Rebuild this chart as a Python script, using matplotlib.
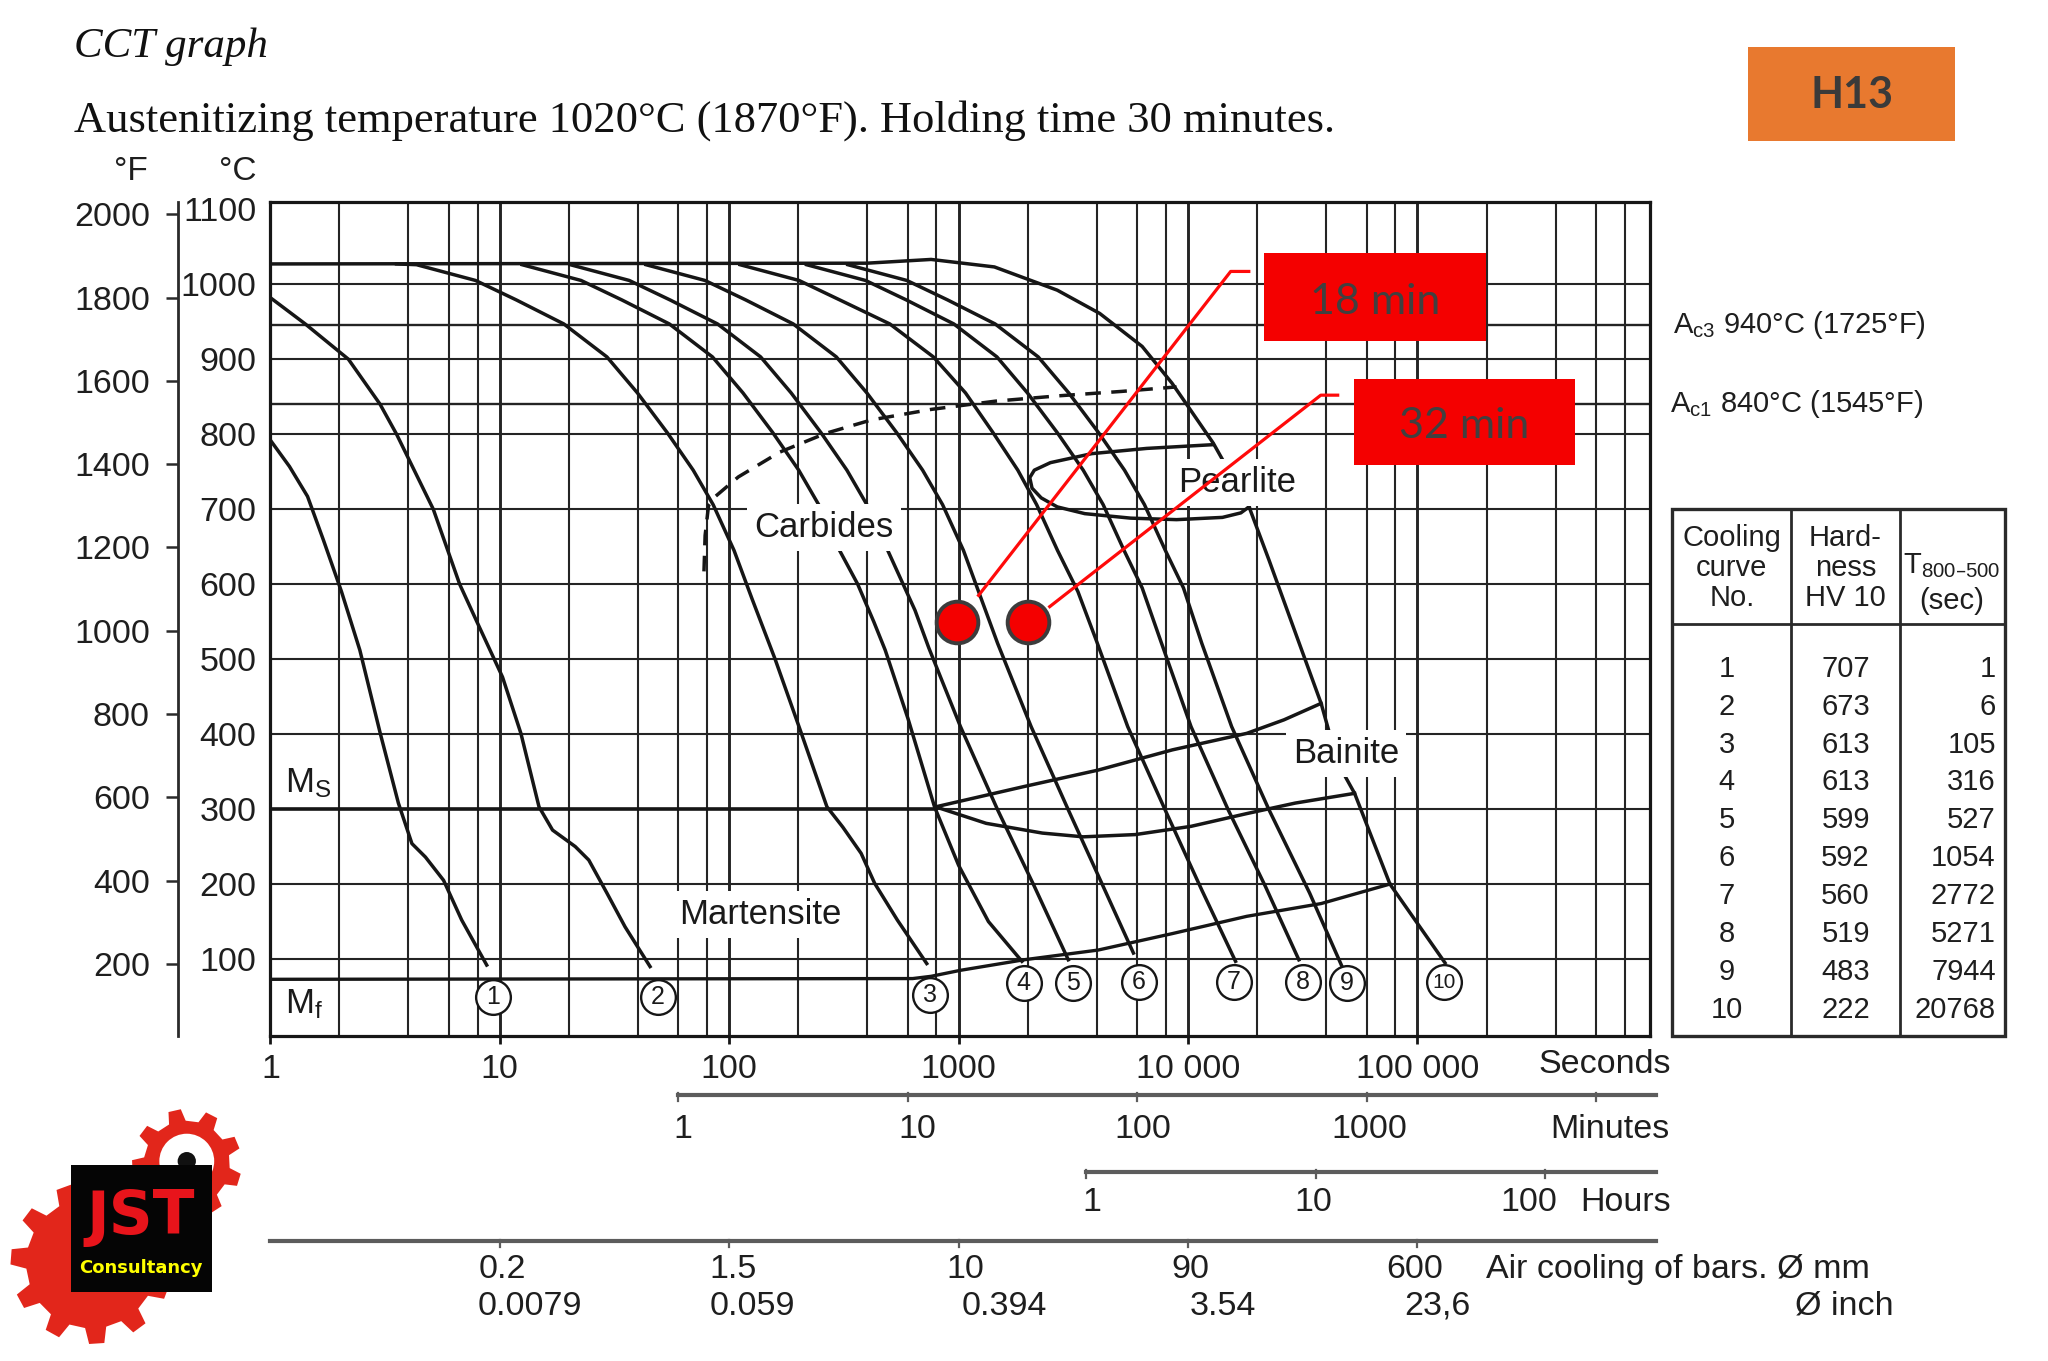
import numpy as np
import matplotlib
matplotlib.use("Agg")
import matplotlib.pyplot as plt
import matplotlib.transforms as mtrans
from matplotlib.lines import Line2D
from matplotlib.patches import Rectangle, Polygon, Circle
from matplotlib.ticker import FixedLocator, FixedFormatter, LogLocator, NullFormatter

plt.rcParams['font.family'] = ['Liberation Sans', 'DejaVu Sans']
plt.rcParams['mathtext.default'] = 'regular'

# ------------------------------------------------------------------
# DATA: time as log10(seconds), temperature °C
# ------------------------------------------------------------------
c1_log10s = [0.0, 0.083, 0.162, 0.231, 0.31, 0.39, 0.479, 0.558, 0.617, 0.676, 0.755, 0.834, 0.943]
c1_temp = [792, 757, 717, 659, 590, 512, 401, 308, 254, 236, 205, 152, 92]

c2_log10s = [0.0, 0.152, 0.34, 0.478, 0.55, 0.71, 0.825, 0.90, 1.012, 1.092, 1.171, 1.23, 1.329, 1.388, 1.467, 1.546, 1.655]
c2_temp = [982, 947, 900, 840, 800, 700, 600, 550, 476, 401, 303, 272, 250, 232, 188, 143, 90]

c3_log10s = [0.55, 0.637, 0.894, 1.072, 1.279, 1.467, 1.60, 1.73, 1.843, 1.93, 2.021, 2.10, 2.20, 2.31, 2.426, 2.495, 2.575, 2.634, 2.733, 2.861]
c3_temp = [1027, 1026, 1005, 979, 947, 903, 855, 802, 752, 706, 645, 580, 500, 405, 303, 276, 241, 201, 152, 94]

c4_log10s = [1.097, 1.354, 1.532, 1.739, 1.927, 2.06, 2.19, 2.303, 2.39, 2.481, 2.56, 2.63, 2.68, 2.78, 2.895, 3.0, 3.13, 3.276]
c4_temp = [1026, 1005, 979, 947, 903, 855, 802, 752, 706, 645, 600, 550, 512, 420, 303, 225, 150, 97]

c5_log10s = [1.307, 1.564, 1.742, 1.949, 2.137, 2.27, 2.40, 2.513, 2.60, 2.691, 2.81, 2.87, 3.008, 3.17, 3.33, 3.478]
c5_temp = [1026, 1005, 979, 947, 903, 855, 802, 752, 706, 645, 565, 515, 410, 299, 197, 99]

c6_log10s = [1.637, 1.894, 2.072, 2.279, 2.467, 2.60, 2.73, 2.843, 2.93, 3.021, 3.17, 3.316, 3.478, 3.624, 3.762]
c6_temp = [1026, 1005, 979, 947, 903, 855, 802, 752, 706, 645, 521, 410, 299, 201, 108]

c7_log10s = [2.047, 2.304, 2.482, 2.70, 2.89, 3.03, 3.15, 3.258, 3.34, 3.431, 3.52, 3.60, 3.737, 3.90, 4.06, 4.207]
c7_temp = [1026, 1005, 979, 947, 903, 855, 802, 752, 706, 645, 590, 525, 410, 299, 192, 97]

c8_log10s = [2.337, 2.594, 2.772, 2.979, 3.167, 3.30, 3.43, 3.543, 3.63, 3.721, 3.80, 3.88, 4.013, 4.175, 4.337, 4.483]
c8_temp = [1026, 1005, 979, 947, 903, 855, 802, 752, 706, 645, 595, 525, 410, 299, 197, 99]

c9_log10s = [2.517, 2.774, 2.952, 3.159, 3.347, 3.48, 3.61, 3.723, 3.81, 3.901, 3.98, 4.06, 4.19, 4.353, 4.53, 4.677]
c9_temp = [1026, 1005, 979, 947, 903, 855, 802, 752, 706, 645, 595, 521, 410, 299, 188, 86]

c10_log10s = [0.0, 2.60, 2.88, 3.156, 3.43, 3.615, 3.80, 3.93, 4.0, 4.11, 4.266, 4.353, 4.48, 4.58, 4.613, 4.686, 4.726, 4.88, 5.12]
c10_temp = [1027, 1028, 1033, 1023, 992, 961, 917, 868, 837, 788, 703, 632, 525, 441, 405, 343, 321, 200, 95]

carb_log10s = [1.89, 1.895, 1.91, 1.94, 2.04, 2.22, 2.42, 2.62, 2.88, 3.16, 3.43, 3.71, 3.95]
carb_temp = [617, 665, 705, 717, 743, 776, 801, 819, 833, 844, 851, 857, 863]

pearl_log10s = [4.11, 3.82, 3.58, 3.40, 3.33, 3.31, 3.32, 3.36, 3.43, 3.55, 3.75, 3.95, 4.15, 4.23, 4.266]
pearl_temp = [786, 781, 774, 762, 752, 742, 728, 715, 703, 694, 688, 686, 689, 695, 703]

bs_log10s = [2.90, 3.284, 3.608, 3.932, 4.256, 4.418, 4.58]
bs_temp = [303, 330, 352, 379, 401, 419, 441]

bmid_log10s = [2.90, 3.12, 3.365, 3.543, 3.77, 4.013, 4.256, 4.467, 4.726]
bmid_temp = [303, 281, 268, 263, 266, 277, 294, 308, 321]

mfbf_log10s = [0.0, 2.80, 2.88, 3.008, 3.284, 3.608, 3.932, 4.256, 4.58, 4.88]
mfbf_temp = [73, 74, 77, 85, 99, 112, 134, 157, 174, 200]

ms_log10s = [0.0, 2.90]
ms_temp = [300, 300]

ac3_temp = 945
ac1_temp = 840
ac_labels = ['$\\mathregular{A_{c3}}$ 940°C (1725°F)', '$\\mathregular{A_{c1}}$ 840°C (1545°F)']

region_names = ['Carbides', 'Pearlite', 'Bainite', 'Martensite']
region_log10s = [2.413, 4.212, 4.689, 2.134]
region_temp = [676, 735, 374, 159]

circ_names = ['1', '2', '3', '4', '5', '6', '7', '8', '9', '10']
circ_log10s = [0.969, 1.69, 2.875, 3.284, 3.50, 3.786, 4.20, 4.50, 4.694, 5.115]
circ_temp = [50, 50, 52, 68, 68, 69, 69, 69, 68, 69]

dots_s = [985, 2000]
dots_temp = [550, 550]
leader1_s = [1222, 15340, 18400]
leader1_temp = [585, 1017, 1017]
leader2_s = [2495, 37900, 44900]
leader2_temp = [570, 852, 852]
note_texts = ['18 min', '32 min']

degc_ticks = [100, 200, 300, 400, 500, 600, 700, 800, 900, 1000, 1100]
degf_ticks = [200, 400, 600, 800, 1000, 1200, 1400, 1600, 1800, 2000]

sec_ticks = [1, 10, 100, 1000, 10000, 100000]
sec_labels = ['1', '10', '100', '1000', '10 000', '100 000']
min_ticks = [1, 10, 100, 1000, 10000]
min_labels = ['1', '10', '100', '1000', '']
hour_ticks = [1, 10, 100]
hour_labels = ['1', '10', '100']
bar_ticks_s = [10, 100, 1000, 10000, 100000]
bar_mm = ['0.2', '1.5', '10', '90', '600']
bar_inch = ['0.0079', '0.059', '0.394', '3.54', '23,6']

table_no = ['1', '2', '3', '4', '5', '6', '7', '8', '9', '10']
table_hv = ['707', '673', '613', '613', '599', '592', '560', '519', '483', '222']
table_t85 = ['1', '6', '105', '316', '527', '1054', '2772', '5271', '7944', '20768']

# ------------------------------------------------------------------
INK = '#161616'
GRID = '#242424'
RED = '#f40000'
W, H = 1568.0, 1042.0


def fx(x):
    return x / W


def fy(y):
    return 1.0 - y / H


def secs(v):
    return 10 ** np.asarray(v, dtype=float)


fig = plt.figure(figsize=(20.48, 13.61), dpi=100)
fig.patch.set_facecolor('white')

ax = fig.add_axes([fx(207), fy(793), fx(1263) - fx(207), fy(155) - fy(793)])
ax.set_xscale('log')
ax.set_xlim(1, 10 ** 6.012)
ax.set_ylim(-2.3, 1109)
ax.set_axisbelow(True)

ax.xaxis.set_major_locator(FixedLocator(sec_ticks))
ax.xaxis.set_major_formatter(FixedFormatter(sec_labels))
ax.xaxis.set_minor_locator(LogLocator(base=10, subs=(2, 4, 6, 8), numticks=40))
ax.xaxis.set_minor_formatter(NullFormatter())
ax.grid(True, which='major', axis='x', color=GRID, lw=2.1)
ax.grid(True, which='minor', axis='x', color=GRID, lw=1.5)
ax.tick_params(axis='x', which='major', direction='out', length=6, width=2.0,
               pad=7, labelsize=24.5, labelcolor='#1e1e1e', color=INK)
ax.tick_params(axis='x', which='minor', length=0)
ax.set_yticks(degc_ticks)
ax.set_yticklabels([str(v) for v in degc_ticks])
ax.tick_params(axis='y', length=0, pad=10, labelsize=24.5, labelcolor='#1e1e1e')
for s in ax.spines.values():
    s.set_linewidth(2.3)
    s.set_color(INK)

for t in range(100, 1001, 100):
    ax.axhline(t, color=GRID, lw=1.5, zorder=1)
ax.axhline(ac3_temp, color=GRID, lw=1.7, zorder=1)
ax.axhline(ac1_temp, color=GRID, lw=1.7, zorder=1)

curves = [(c1_log10s, c1_temp), (c2_log10s, c2_temp), (c3_log10s, c3_temp),
          (c4_log10s, c4_temp), (c5_log10s, c5_temp), (c6_log10s, c6_temp),
          (c7_log10s, c7_temp), (c8_log10s, c8_temp), (c9_log10s, c9_temp),
          (c10_log10s, c10_temp)]
for lx, ty in curves:
    ax.plot(secs(lx), ty, color=INK, lw=2.5, zorder=3, solid_joinstyle='round')

ax.plot(secs(carb_log10s), carb_temp, color=INK, lw=2.5, ls=(0, (4.5, 3)), zorder=3)
ax.plot(secs(pearl_log10s), pearl_temp, color=INK, lw=2.5, zorder=3)
ax.plot(secs(bs_log10s), bs_temp, color=INK, lw=2.5, zorder=3)
ax.plot(secs(bmid_log10s), bmid_temp, color=INK, lw=2.5, zorder=3)
ax.plot(secs(mfbf_log10s), mfbf_temp, color=INK, lw=2.4, zorder=3)
ax.plot(secs(ms_log10s), ms_temp, color=INK, lw=2.6, zorder=3)

for name, lx, ty in zip(region_names, region_log10s, region_temp):
    ax.text(10 ** lx, ty, name, ha='center', va='center', fontsize=25, color='#1a1a1a',
            zorder=5, bbox=dict(fc='white', ec='none', pad=5))

ax.text(10 ** 0.065, 334, '$\\mathregular{M_S}$', ha='left', va='center', fontsize=25,
        color='#1a1a1a', zorder=5)
ax.text(10 ** 0.065, 40, '$\\mathregular{M_f}$', ha='left', va='center', fontsize=25,
        color='#1a1a1a', zorder=5)

ax.scatter(secs(circ_log10s), circ_temp, s=25 ** 2, facecolor='white', edgecolor=INK,
           linewidth=1.7, zorder=6)
for name, lx, ty in zip(circ_names, circ_log10s, circ_temp):
    ax.text(10 ** lx, ty, name, ha='center', va='center', fontsize=18 if len(name) == 1 else 15,
            color='#1a1a1a', zorder=7)

# red annotations
ax.plot(leader1_s, leader1_temp, color='#ff0a0a', lw=2.3, zorder=7, clip_on=False)
ax.plot(leader2_s, leader2_temp, color='#ff0a0a', lw=2.3, zorder=7, clip_on=False)
ax.plot(dots_s, dots_temp, ls='none', marker='o', ms=30, mfc=RED, mec='#3c3c3c', mew=2.8,
        zorder=8)

# Ac labels at right of plot
btr = mtrans.blended_transform_factory(ax.transAxes, ax.transData)
ax.text(1.017, ac3_temp, ac_labels[0], transform=btr, ha='left', va='center', fontsize=21,
        color='#1e1e1e', clip_on=False)
ax.text(1.015, ac1_temp, ac_labels[1], transform=btr, ha='left', va='center', fontsize=21,
        color='#1e1e1e', clip_on=False)

# Fahrenheit axis
axf = fig.add_axes([fx(136), fy(793), 0.001, fy(155) - fy(793)])
axf.set_ylim(-2.3 * 9 / 5 + 32, 1109 * 9 / 5 + 32)
axf.set_yticks(degf_ticks)
axf.set_yticklabels([str(v) for v in degf_ticks])
axf.set_xticks([])
for k in ['top', 'right', 'bottom']:
    axf.spines[k].set_visible(False)
axf.spines['left'].set_linewidth(2.0)
axf.spines['left'].set_color('#2a2a2a')
axf.tick_params(axis='y', direction='out', length=9, width=1.8, pad=11, labelsize=24.5,
                labelcolor='#1e1e1e', color='#2a2a2a')
axf.patch.set_alpha(0)

# titles
fig.text(fx(57), fy(36), 'CCT graph', family=['Liberation Serif', 'DejaVu Serif'], style='italic',
         fontsize=31, ha='left', va='center', color='#111111')
fig.text(fx(57), fy(92), 'Austenitizing temperature 1020°C (1870°F). Holding time 30 minutes.',
         family=['Liberation Serif', 'DejaVu Serif'], fontsize=32, ha='left', va='center',
         color='#111111')
fig.text(fx(100), fy(131), '°F', fontsize=24, ha='center', va='center', color='#1e1e1e')
fig.text(fx(182), fy(131), '°C', fontsize=24, ha='center', va='center', color='#1e1e1e')

# H13 badge
fig.add_artist(Rectangle((fx(1338), fy(108)), fx(1497) - fx(1338), fy(36) - fy(108),
                         transform=fig.transFigure, fc='#e8792f', ec='none', zorder=9))
fig.text(fx(1418), fy(73), 'H13', family=['Lato', 'Open Sans', 'DejaVu Sans'], fontweight='bold',
         fontsize=31, ha='center', va='center', color='#3a3a3a', zorder=10)

# red note boxes
for (x0, x1, y0, y1, xc, yc), txt in zip([(968, 1138, 194, 261, 1053, 231),
                                          (1037, 1206, 290, 356, 1121, 326)], note_texts):
    fig.add_artist(Rectangle((fx(x0), fy(y1)), fx(x1) - fx(x0), fy(y0) - fy(y1),
                             transform=fig.transFigure, fc=RED, ec='none', zorder=9))
    fig.text(fx(xc), fy(yc), txt, family=['Lato', 'Open Sans', 'DejaVu Sans'], fontsize=31,
             ha='center', va='center', color='#404040', zorder=10)

# secondary time scales under the chart
bt = mtrans.blended_transform_factory(ax.transData, fig.transFigure)
LGRAY = '#5c5c5c'
x_end = 10 ** 6.04


def scale_line(x_start, y, ticks):
    fig.add_artist(Line2D([x_start, x_end], [fy(y), fy(y)], transform=bt, color=LGRAY, lw=3.0))
    for t in ticks:
        fig.add_artist(Line2D([t, t], [fy(y - 1), fy(y + 5)], transform=bt, color=LGRAY, lw=1.6))


fig.text(fx(1178), fy(815), 'Seconds', fontsize=24.5, ha='left', va='center', color='#1e1e1e')

min_s = [m * 60 for m in min_ticks]
scale_line(min_s[0], 838, min_s)
for t, lab, dx in zip(min_s, min_labels, [3, 7, 4, 2, 0]):
    ax.annotate(lab, xy=(t, fy(865)), xycoords=bt, xytext=(dx, 0), textcoords='offset points',
                ha='center', va='center', fontsize=24.5, color='#1e1e1e', annotation_clip=False)
fig.text(fx(1187), fy(865), 'Minutes', fontsize=24.5, ha='left', va='center', color='#1e1e1e')

hour_s = [h * 3600 for h in hour_ticks]
scale_line(hour_s[0], 897, hour_s)
for t, lab, dx in zip(hour_s, hour_labels, [4, -2, -12]):
    ax.annotate(lab, xy=(t, fy(921)), xycoords=bt, xytext=(dx, 0), textcoords='offset points',
                ha='center', va='center', fontsize=24.5, color='#1e1e1e', annotation_clip=False)
fig.text(fx(1210), fy(921), 'Hours', fontsize=24.5, ha='left', va='center', color='#1e1e1e')

scale_line(1, 950, bar_ticks_s)
for t, lab, dx in zip(bar_ticks_s, bar_mm, [2, 3, 5, 2, -2]):
    ax.annotate(lab, xy=(t, fy(972)), xycoords=bt, xytext=(dx, 0), textcoords='offset points',
                ha='center', va='center', fontsize=24.5, color='#1e1e1e', annotation_clip=False)
for t, lab, dx in zip(bar_ticks_s, bar_inch, [22, 17, 33, 25, 14]):
    ax.annotate(lab, xy=(t, fy(1000)), xycoords=bt, xytext=(dx, 0), textcoords='offset points',
                ha='center', va='center', fontsize=24.5, color='#1e1e1e', annotation_clip=False)
fig.text(fx(1138), fy(972), 'Air cooling of bars. Ø mm', fontsize=24.5, ha='left', va='center',
         color='#1e1e1e')
fig.text(fx(1450), fy(1000), 'Ø inch', fontsize=24.5, ha='right', va='center', color='#1e1e1e')

# hardness table
TL, TR, TT, TB = 1280, 1535, 390, 793
fig.add_artist(Rectangle((fx(TL), fy(TB)), fx(TR) - fx(TL), fy(TT) - fy(TB),
                         transform=fig.transFigure, fc='none', ec='#2a2a2a', lw=2.4))
for xc in [1371, 1455]:
    fig.add_artist(Line2D([fx(xc), fx(xc)], [fy(TB), fy(TT)], transform=fig.transFigure,
                          color='#2a2a2a', lw=2.0))
fig.add_artist(Line2D([fx(TL), fx(TR)], [fy(478), fy(478)], transform=fig.transFigure,
                      color='#2a2a2a', lw=2.0))
fig.text(fx(1326), fy(435), 'Cooling\ncurve\nNo.', fontsize=21, ha='center', va='center',
         linespacing=1.08, color='#1e1e1e')
fig.text(fx(1413), fy(435), 'Hard-\nness\nHV 10', fontsize=21, ha='center', va='center',
         linespacing=1.08, color='#1e1e1e')
fig.text(fx(1494), fy(433), '$\\mathregular{T_{800\u2013500}}$', fontsize=21, ha='center',
         va='center', color='#1e1e1e')
fig.text(fx(1494), fy(460), '(sec)', fontsize=21, ha='center', va='center', color='#1e1e1e')
for i, (a, b, c) in enumerate(zip(table_no, table_hv, table_t85)):
    yy = fy(512 + 29 * i)
    fig.text(fx(1322), yy, a, fontsize=21, ha='center', va='center', color='#1e1e1e')
    fig.text(fx(1413), yy, b, fontsize=21, ha='center', va='center', color='#1e1e1e')
    fig.text(fx(1528), yy, c, fontsize=21, ha='right', va='center', color='#1e1e1e')

# logo (JST Consultancy)
lax = fig.add_axes([0, fy(1035), fx(195), fy(845) - fy(1035)])
lax.set_xlim(0, 195)
lax.set_ylim(1035, 845)
lax.axis('off')


def gear(cx, cy, r_out, r_root, n, phase=0.0):
    pts = []
    da = 2 * np.pi / n
    for k in range(n):
        a0 = phase + k * da
        for frac, r in [(0.0, r_root), (0.12, r_out), (0.45, r_out), (0.57, r_root)]:
            a = a0 + frac * da
            pts.append((cx + r * np.cos(a), cy + r * np.sin(a)))
    return pts


GEAR = '#e2261b'
lax.add_patch(Polygon(gear(70, 967, 62, 50, 11, 0.2), closed=True, fc=GEAR, ec='none'))
lax.add_patch(Polygon(gear(143, 891, 42, 33, 9, 0.1), closed=True, fc=GEAR, ec='none'))
lax.add_patch(Circle((143, 889), 21, fc='white', ec='none'))
lax.add_patch(Circle((143, 889), 7, fc='#111111', ec='none'))
lax.add_patch(Rectangle((54, 892), 108, 97, fc='#050505', ec='none', zorder=3))
lax.text(108, 932, 'JST', family=['Liberation Sans Narrow', 'DejaVu Sans'], fontweight='bold',
         fontsize=44, color='#e8141b', ha='center', va='center', zorder=4)
lax.text(108, 971, 'Consultancy', family=['Liberation Sans Narrow', 'DejaVu Sans'],
         fontweight='bold', fontsize=13, color='#ffff00', ha='center', va='center', zorder=4)

fig.savefig('out.png', dpi=100, facecolor='white')
